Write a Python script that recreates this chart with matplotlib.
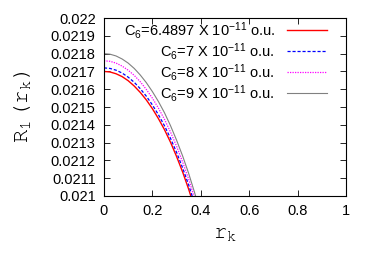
import numpy as np
from matplotlib import pyplot as plt

plt.rcParams['font.family'] = ['Liberation Sans', 'DejaVu Sans']
plt.rcParams['mathtext.fontset'] = 'custom'
plt.rcParams['mathtext.rm'] = 'Liberation Sans'
plt.rcParams['mathtext.it'] = 'Liberation Sans'
plt.rcParams['mathtext.tt'] = 'FreeMono'

# r_k の値
r = [0.0, 0.025, 0.05, 0.075, 0.1, 0.125, 0.15, 0.175, 0.2, 0.225,
     0.25, 0.275, 0.3, 0.325, 0.35, 0.375, 0.4]

# 各 C6 に対する R1(r_k)
r1_c6_64897 = [0.021700, 0.021697, 0.021687, 0.021671, 0.021648, 0.021618,
               0.021582, 0.021540, 0.021491, 0.021435, 0.021373, 0.021302,
               0.021222, 0.021135, 0.021038, 0.020930, 0.020810]
r1_c6_7 = [0.021720, 0.021717, 0.021707, 0.021691, 0.021668, 0.021639,
           0.021603, 0.021561, 0.021512, 0.021457, 0.021395, 0.021324,
           0.021245, 0.021158, 0.021062, 0.020954, 0.020835]
r1_c6_8 = [0.021760, 0.021757, 0.021747, 0.021730, 0.021707, 0.021678,
           0.021642, 0.021599, 0.021550, 0.021494, 0.021431, 0.021359,
           0.021280, 0.021191, 0.021095, 0.020985, 0.020865]
r1_c6_9 = [0.021800, 0.021797, 0.021787, 0.021770, 0.021747, 0.021717,
           0.021680, 0.021637, 0.021587, 0.021531, 0.021468, 0.021395,
           0.021314, 0.021225, 0.021127, 0.021017, 0.020896]

labels = [r"C$_6$=6.4897 X 10$^{-11}$ o.u.",
          r"C$_6$=7 X 10$^{-11}$ o.u.",
          r"C$_6$=8 X 10$^{-11}$ o.u.",
          r"C$_6$=9 X 10$^{-11}$ o.u."]

xticks = [0, 0.2, 0.4, 0.6, 0.8, 1]
yticks = [0.021, 0.0211, 0.0212, 0.0213, 0.0214, 0.0215,
          0.0216, 0.0217, 0.0218, 0.0219, 0.022]
ytick_labels = ["0.021", "0.0211", "0.0212", "0.0213", "0.0214", "0.0215",
                "0.0216", "0.0217", "0.0218", "0.0219", "0.022"]

fig = plt.figure(figsize=(3.74, 2.62), dpi=100)
ax = fig.add_axes([0.278, 0.252, 0.647, 0.679])

ax.plot(r, r1_c6_64897, color='#ff0000', lw=1.0, ls='-', label=labels[0])
ax.plot(r, r1_c6_7, color='#0000ff', lw=0.9, ls=(0, (2.5, 1.5)), label=labels[1])
ax.plot(r, r1_c6_8, color='#ff00ff', lw=0.9, ls=(0, (1, 1)), label=labels[2])
ax.plot(r, r1_c6_9, color='#808080', lw=0.8, ls='-', label=labels[3])

ax.set_xlim(0, 1)
ax.set_ylim(0.021, 0.022)
ax.set_xticks(xticks)
ax.set_xticklabels([str(t) for t in xticks])
ax.set_yticks(yticks)
ax.set_yticklabels(ytick_labels)
ax.tick_params(direction='in', top=True, right=True, labelsize=10.5,
               length=4, width=0.6, pad=6)
for s in ax.spines.values():
    s.set_linewidth(0.8)

ax.set_xlabel(r"$\mathtt{r_k}$", fontsize=16, labelpad=3)
ax.set_ylabel(r"$\mathtt{R_1\,(r_k)}$", fontsize=16, labelpad=13)

ax.legend(loc='upper right', frameon=False, markerfirst=False, fontsize=10.5,
          handlelength=2.75, handletextpad=0.8, labelspacing=0.0,
          borderaxespad=0, borderpad=0, bbox_to_anchor=(0.921, 0.99))

fig.savefig("out.png", dpi=100)
